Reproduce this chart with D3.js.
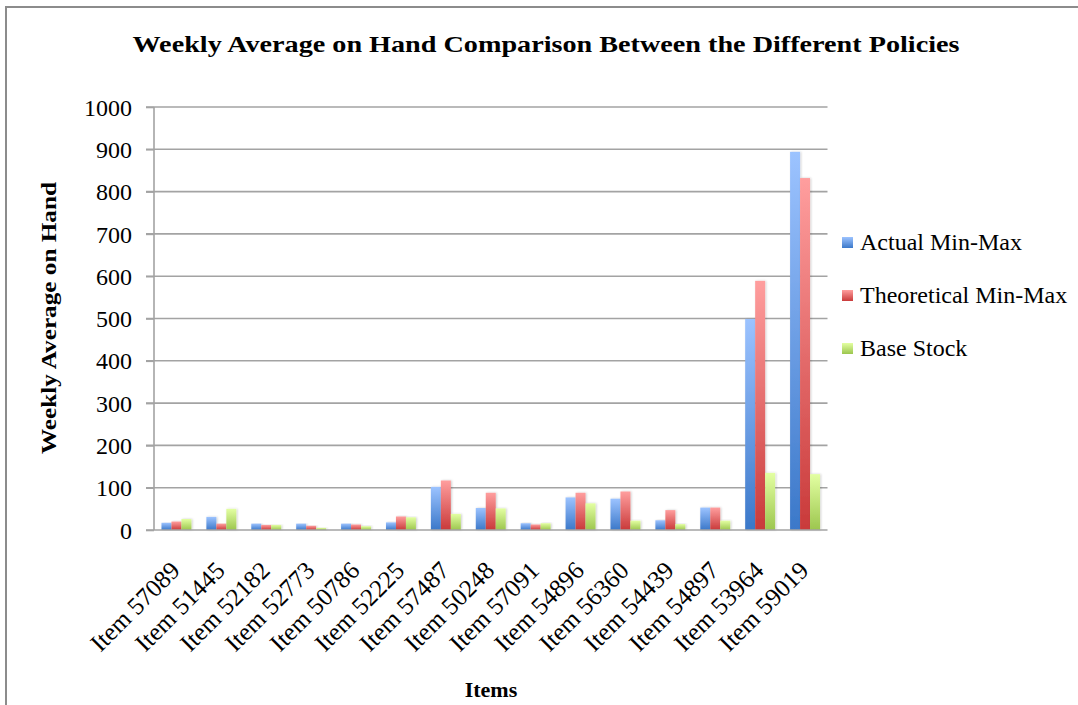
<!DOCTYPE html>
<html>
<head>
<meta charset="utf-8">
<script src="https://cdn.jsdelivr.net/npm/d3@7/dist/d3.min.js"></script>
<style>
  html, body { margin: 0; padding: 0; background: #fff; }
  svg { display: block; }
  text { font-family: "Liberation Serif", "DejaVu Serif", serif; fill: #000; }
</style>
</head>
<body>
<svg id="chart" width="1078" height="705"></svg>
<script>
// Items on the x axis
const items = ["Item 57089", "Item 51445", "Item 52182", "Item 52773", "Item 50786",
  "Item 52225", "Item 57487", "Item 50248", "Item 57091", "Item 54896",
  "Item 56360", "Item 54439", "Item 54897", "Item 53964", "Item 59019"];

// Weekly average on hand per policy
const actualMinMax      = [17, 31, 15, 15, 15, 18, 102, 52, 16, 77, 74, 23, 53, 499, 894];
const theoreticalMinMax = [20, 15, 12, 10, 13, 32, 117, 88, 13, 88, 91, 47, 53, 589, 832];
const baseStock         = [26, 50, 12, 5, 9, 30, 38, 51, 16, 63, 22, 14, 22, 135, 132];

const seriesNames = ["Actual Min-Max", "Theoretical Min-Max", "Base Stock"];
const yTicks = [0, 100, 200, 300, 400, 500, 600, 700, 800, 900, 1000];

const seriesValues = [actualMinMax, theoreticalMinMax, baseStock];
// gradient stops (top, bottom) per series
const seriesColors = [
  ["#9cc3ff", "#3b78c9"],
  ["#ff9e9e", "#c93a3a"],
  ["#e3ffa2", "#9cc64e"]
];

const svg = d3.select("#chart");
const defs = svg.append("defs");

seriesColors.forEach((c, i) => {
  const g = defs.append("linearGradient")
    .attr("id", "grad" + i)
    .attr("x1", 0).attr("y1", 0).attr("x2", 0).attr("y2", 1);
  g.append("stop").attr("offset", "0%").attr("stop-color", c[0]);
  g.append("stop").attr("offset", "100%").attr("stop-color", c[1]);
});

const shadow = defs.append("filter").attr("id", "shadow")
  .attr("x", "-30%").attr("y", "-10%").attr("width", "160%").attr("height", "120%");
shadow.append("feDropShadow").attr("dx", 1).attr("dy", 0).attr("stdDeviation", 1.2)
  .attr("flood-color", "#000").attr("flood-opacity", 0.2);

// outer frame
svg.append("rect")
  .attr("x", 6).attr("y", 7).attr("width", 1090).attr("height", 720)
  .attr("fill", "none").attr("stroke", "#8c8c8c").attr("stroke-width", 2);

const plot = { left: 154, right: 827.5, top: 107, bottom: 530 };

const x = d3.scaleBand().domain(items).range([plot.left, plot.right]).paddingInner(0).paddingOuter(0);
const y = d3.scaleLinear().domain([0, 1000]).range([plot.bottom, plot.top]);

// Excel style gap: three bars plus 1.5 bar widths of gap
const barW = x.bandwidth() / 4.5;
const xs = d3.scaleBand().domain(d3.range(3)).range([0, barW * 3]);

// gridlines with left tick stubs
svg.append("g")
  .selectAll("line")
  .data(yTicks.filter(t => t > 0))
  .join("line")
  .attr("x1", plot.left - 8).attr("x2", plot.right)
  .attr("y1", d => y(d)).attr("y2", d => y(d))
  .attr("stroke", "#a3a3a3").attr("stroke-width", 1.6);

// y axis labels
const yAxis = d3.axisLeft(y).tickValues(yTicks).tickSize(8).tickPadding(14).tickFormat(d3.format("d"));
const yg = svg.append("g").attr("transform", `translate(${plot.left},0)`).call(yAxis);
yg.select(".domain").remove();
yg.selectAll(".tick line").attr("stroke", "#a3a3a3").attr("stroke-width", 1.6);
yg.selectAll(".tick text")
  .attr("font-family", "Liberation Serif").attr("font-size", 24).attr("fill", "#000")
  .attr("dy", "0.34em");

// bars
const groups = svg.append("g").selectAll("g")
  .data(items)
  .join("g")
  .attr("transform", d => `translate(${x(d) + (x.bandwidth() - barW * 3) / 2},0)`);

groups.selectAll("rect")
  .data((d, i) => seriesValues.map((vals, s) => ({ s, v: vals[i] })))
  .join("rect")
  .attr("x", d => xs(d.s))
  .attr("width", xs.bandwidth())
  .attr("y", d => y(d.v))
  .attr("height", d => y(0) - y(d.v))
  .attr("fill", d => `url(#grad${d.s})`)
  .attr("filter", "url(#shadow)");

// axes lines
svg.append("line")
  .attr("x1", plot.left).attr("x2", plot.left)
  .attr("y1", plot.top).attr("y2", plot.bottom)
  .attr("stroke", "#a3a3a3").attr("stroke-width", 1.6);
svg.append("line")
  .attr("x1", plot.left - 8).attr("x2", plot.right)
  .attr("y1", plot.bottom).attr("y2", plot.bottom)
  .attr("stroke", "#a3a3a3").attr("stroke-width", 1.6);

// x axis labels, rotated
const xAxis = d3.axisBottom(x).tickSize(0).tickPadding(0);
const xg = svg.append("g").attr("transform", `translate(0,${plot.bottom})`).call(xAxis);
xg.select(".domain").remove();
xg.selectAll(".tick text")
  .attr("font-family", "Liberation Serif").attr("font-size", 25).attr("fill", "#000")
  .attr("text-anchor", "end")
  .attr("dy", null).attr("y", null)
  .attr("transform", "translate(5,42) rotate(-45)");

// title
svg.append("text")
  .attr("x", 546).attr("y", 52)
  .attr("text-anchor", "middle")
  .attr("font-weight", "bold").attr("font-size", 23)
  .attr("textLength", 827).attr("lengthAdjust", "spacingAndGlyphs")
  .text("Weekly Average on Hand Comparison Between the Different Policies");

// y axis title
svg.append("text")
  .attr("transform", "translate(56,318) rotate(-90)")
  .attr("text-anchor", "middle")
  .attr("font-weight", "bold").attr("font-size", 22)
  .attr("textLength", 272).attr("lengthAdjust", "spacingAndGlyphs")
  .text("Weekly Average on Hand");

// x axis title
svg.append("text")
  .attr("x", 491).attr("y", 697)
  .attr("text-anchor", "middle")
  .attr("font-weight", "bold").attr("font-size", 22)
  .text("Items");

// legend
const legend = svg.append("g").attr("transform", "translate(842,242)");
const li = legend.selectAll("g").data(seriesNames).join("g")
  .attr("transform", (d, i) => `translate(0,${i * 53})`);
li.append("rect")
  .attr("x", 0).attr("y", -5).attr("width", 11).attr("height", 11)
  .attr("fill", (d, i) => `url(#grad${i})`);
li.append("text")
  .attr("x", 18).attr("y", 0).attr("dy", "0.35em")
  .attr("font-size", 24)
  .text(d => d);
</script>
</body>
</html>
